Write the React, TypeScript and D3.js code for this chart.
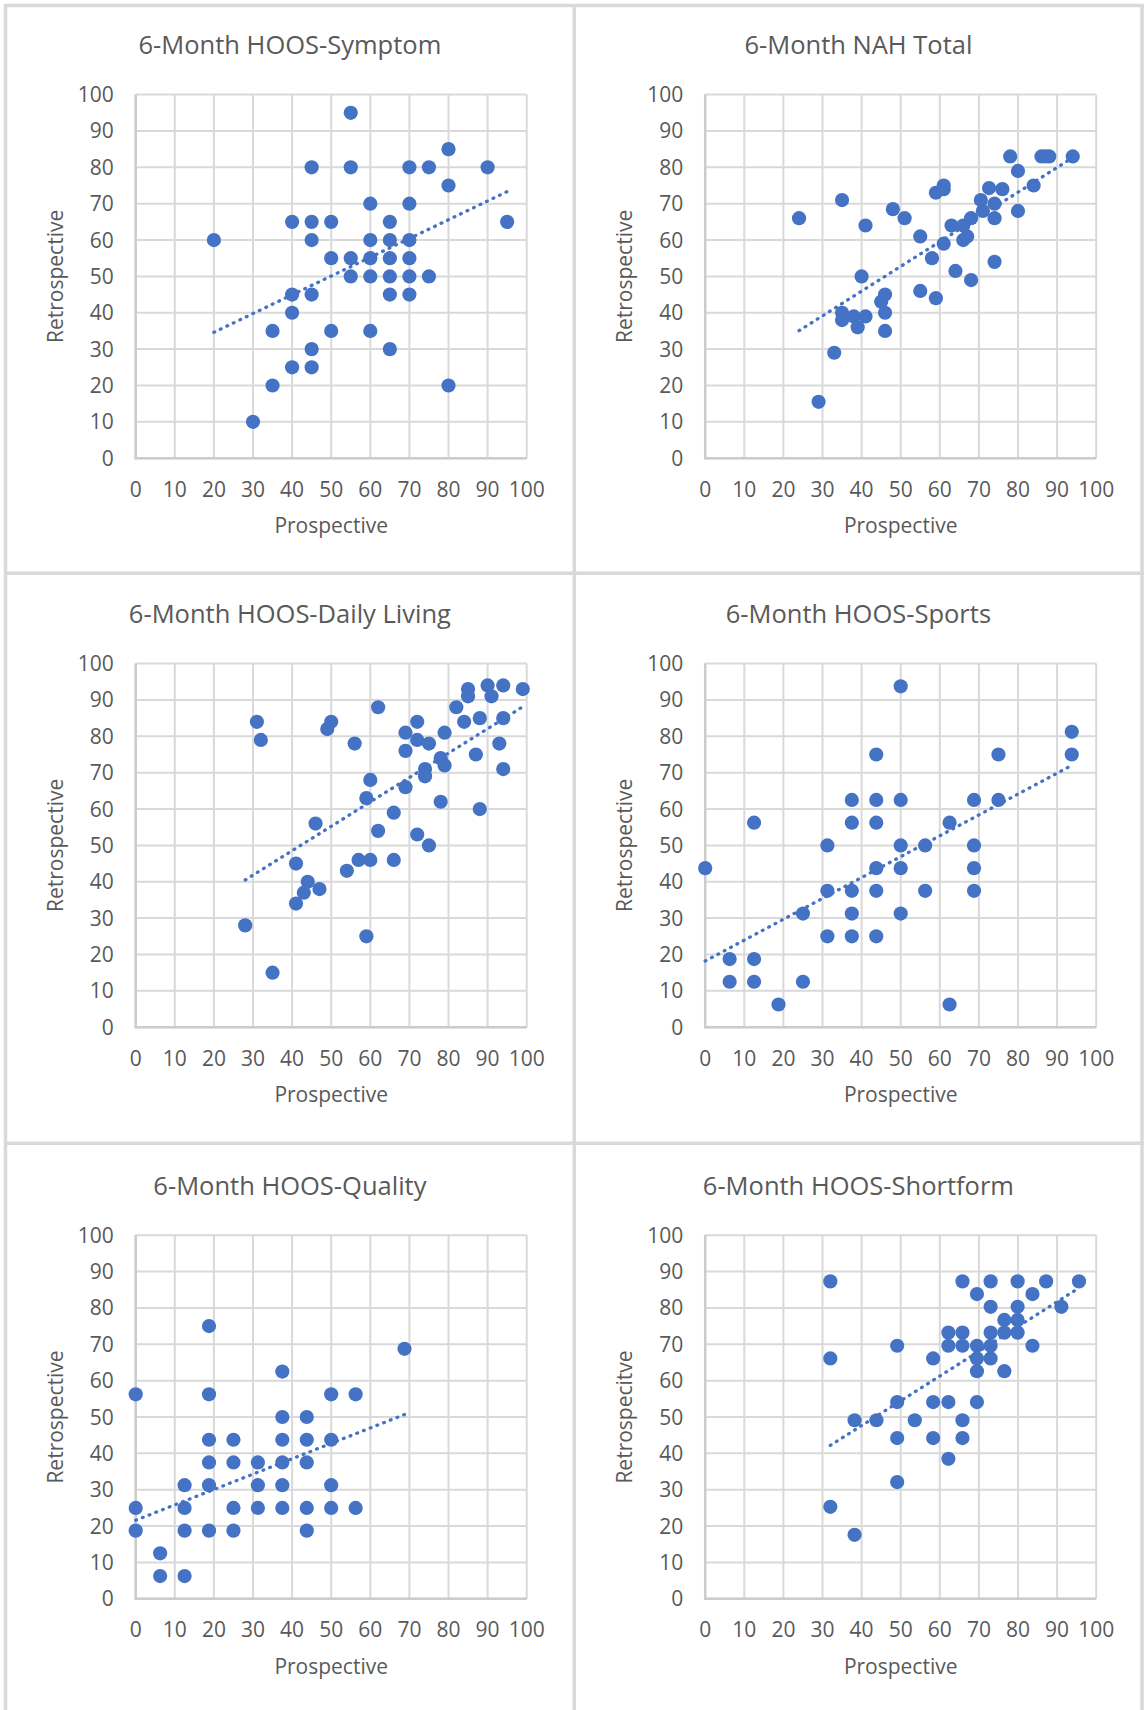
import React from "react";
import * as d3 from "d3";

type Pt = [number, number];

// Axis ticks shared by every panel (both axes run 0–100)
const TICKS: number[] = [0, 10, 20, 30, 40, 50, 60, 70, 80, 90, 100];

// [prospective, retrospective] score pairs per outcome measure
const symptomPoints: Pt[] = [
  [55, 95], [80, 85], [45, 80], [55, 80], [70, 80], [75, 80], [90, 80], [80, 75],
  [60, 70], [70, 70], [40, 65], [45, 65], [50, 65], [65, 65], [95, 65],
  [20, 60], [45, 60], [60, 60], [65, 60], [70, 60],
  [50, 55], [55, 55], [60, 55], [65, 55], [70, 55],
  [55, 50], [60, 50], [65, 50], [70, 50], [75, 50],
  [40, 45], [45, 45], [65, 45], [70, 45], [40, 40],
  [35, 35], [50, 35], [60, 35], [45, 30], [65, 30],
  [40, 25], [45, 25], [35, 20], [80, 20], [30, 10],
];

const nahPoints: Pt[] = [
  [24, 66], [35, 71], [29, 15.5], [33, 29], [35, 40], [35, 38], [38, 39], [39, 36],
  [41, 39], [40, 50], [41, 64], [48, 68.5], [51, 66], [45, 43], [46, 45], [46, 40],
  [46, 35], [55, 61], [55, 46], [58, 55], [59, 44], [59, 73], [61, 75], [61, 74],
  [61, 59], [63, 64], [64, 51.5], [66, 64], [66, 60], [67, 61], [68, 66], [68, 49],
  [70.5, 71], [71, 68], [72.6, 74.3], [74, 70], [74, 66], [74, 54], [76, 74],
  [78, 83], [80, 79], [80, 68], [84, 75], [86, 83], [87, 83], [88, 83], [94, 83],
];

const dailyLivingPoints: Pt[] = [
  [31, 84], [32, 79], [28, 28], [35, 15], [41, 45], [41, 34], [44, 40], [43, 37],
  [47, 38], [46, 56], [49, 82], [50, 84], [54, 43], [56, 78], [57, 46], [60, 46],
  [59, 63], [60, 68], [59, 25], [62, 88], [62, 54], [66, 59], [66, 46], [69, 81],
  [69, 76], [69, 66], [72, 84], [72, 79], [72, 53], [74, 71], [74, 69], [75, 78],
  [75, 50], [78, 74], [79, 72], [79, 81], [78, 62], [82, 88], [84, 84], [85, 93],
  [85, 91], [87, 75], [88, 85], [88, 60], [90, 94], [91, 91], [93, 78], [94, 94],
  [94, 85], [94, 71], [99, 93],
];

const sportsPoints: Pt[] = [
  [0, 43.75], [6.25, 18.75], [6.25, 12.5], [12.5, 56.25], [12.5, 18.75], [12.5, 12.5],
  [18.75, 6.25], [25, 31.25], [25, 12.5], [31.25, 50], [31.25, 37.5], [31.25, 25],
  [37.5, 62.5], [37.5, 56.25], [37.5, 37.5], [37.5, 31.25], [37.5, 25],
  [43.75, 75], [43.75, 62.5], [43.75, 56.25], [43.75, 43.75], [43.75, 37.5], [43.75, 25],
  [50, 93.75], [50, 62.5], [50, 50], [50, 43.75], [50, 31.25],
  [56.25, 50], [56.25, 37.5], [62.5, 56.25], [62.5, 6.25],
  [68.75, 62.5], [68.75, 50], [68.75, 43.75], [68.75, 37.5],
  [75, 75], [75, 62.5], [93.75, 81.25], [93.75, 75],
];

const qualityPoints: Pt[] = [
  [0, 56.25], [0, 25], [0, 18.75], [6.25, 12.5], [6.25, 6.25],
  [12.5, 31.25], [12.5, 25], [12.5, 18.75], [12.5, 6.25],
  [18.75, 75], [18.75, 56.25], [18.75, 43.75], [18.75, 37.5], [18.75, 31.25], [18.75, 18.75],
  [25, 43.75], [25, 37.5], [25, 25], [25, 18.75],
  [31.25, 37.5], [31.25, 31.25], [31.25, 25],
  [37.5, 62.5], [37.5, 50], [37.5, 43.75], [37.5, 37.5], [37.5, 31.25], [37.5, 25],
  [43.75, 50], [43.75, 43.75], [43.75, 37.5], [43.75, 25], [43.75, 18.75],
  [50, 56.25], [50, 43.75], [50, 31.25], [50, 25],
  [56.25, 56.25], [56.25, 25], [68.75, 68.75],
];

const shortformPoints: Pt[] = [
  [32, 87.3], [32, 66.1], [32, 25.3], [38.2, 49.1], [38.2, 17.6], [43.8, 49.1],
  [49.1, 69.6], [49.1, 54.1], [49.1, 44.2], [49.1, 32.1], [53.6, 49.1],
  [58.3, 66.1], [58.3, 54.1], [58.3, 44.2],
  [62.2, 73.2], [62.2, 69.6], [62.2, 54.1], [62.2, 38.5],
  [65.8, 87.3], [65.8, 73.2], [65.8, 69.6], [65.8, 49.1], [65.8, 44.2],
  [69.5, 83.8], [69.5, 69.6], [69.5, 66.1], [69.5, 62.6], [69.5, 54.1],
  [73, 87.3], [73, 80.3], [73, 73.2], [73, 69.6], [73, 66.1],
  [76.5, 76.7], [76.5, 73.2], [76.5, 62.6],
  [79.9, 87.3], [79.9, 80.3], [79.9, 76.7], [79.9, 73.2],
  [83.7, 83.8], [83.7, 69.6], [87.2, 87.3], [91.1, 80.3], [95.6, 87.3],
];

// Linear trendlines as [intercept, slope]
const symptomTrend: Pt = [24.3, 0.516];
const nahTrend: Pt = [18.75, 0.68];
const dailyLivingTrend: Pt = [21.7, 0.671];
const sportsTrend: Pt = [18.2, 0.574];
const qualityTrend: Pt = [21.6, 0.423];
const shortformTrend: Pt = [20.4, 0.681];

const titles: string[] = [
  "6-Month HOOS-Symptom",
  "6-Month NAH Total",
  "6-Month HOOS-Daily Living",
  "6-Month HOOS-Sports",
  "6-Month HOOS-Quality",
  "6-Month HOOS-Shortform",
];
const yTitles: string[] = [
  "Retrospective", "Retrospective", "Retrospective",
  "Retrospective", "Retrospective", "Retrospecitve",
];
const xTitle = "Prospective";

const seriesList: Pt[][] = [
  symptomPoints, nahPoints, dailyLivingPoints, sportsPoints, qualityPoints, shortformPoints,
];
const trendList: Pt[] = [
  symptomTrend, nahTrend, dailyLivingTrend, sportsTrend, qualityTrend, shortformTrend,
];

// Layout
const W = 1144;
const H = 1710;
const CELL_X = [5.5, 574.3];
const CELL_Y = [5.5, 573.3, 1143.3];
const PLOT_LEFT = [135.7, 705.2];
const PLOT_TOP = [94.6, 663.6, 1235.2];
const PLOT_W = 391;
const PLOT_H = 363.6;

const BLUE = "#4472C4";
const TEXT = "#595959";
const GRID = "#D9D9D9";
const FONT = "'Open Sans', 'Segoe UI', sans-serif";

function Panel({ idx }: { idx: number }) {
  const col = idx % 2;
  const row = Math.floor(idx / 2);
  const left = PLOT_LEFT[col];
  const top = PLOT_TOP[row];
  const cellCenter = col === 0 ? (CELL_X[0] + CELL_X[1]) / 2 : (CELL_X[1] + 1142.5) / 2;

  const x = d3.scaleLinear().domain([0, 100]).range([left, left + PLOT_W]);
  const y = d3.scaleLinear().domain([0, 100]).range([top + PLOT_H, top]);

  const pts = seriesList[idx];
  const [a, b] = trendList[idx];
  const [x0, x1] = d3.extent(pts, (p) => p[0]) as [number, number];
  const trendPath =
    d3.line<number>()
      .x((v) => x(v))
      .y((v) => y(a + b * v))([x0, x1]) || "";

  return (
    <g>
      {/* gridlines */}
      {TICKS.map((t) => (
        <line key={"v" + t} x1={x(t)} x2={x(t)} y1={y(0)} y2={y(100)} stroke={GRID} strokeWidth={2} />
      ))}
      {TICKS.map((t) => (
        <line key={"h" + t} x1={x(0)} x2={x(100)} y1={y(t)} y2={y(t)} stroke={GRID} strokeWidth={2} />
      ))}
      {/* axis lines */}
      <line x1={x(0)} x2={x(0)} y1={y(0) + 1} y2={y(100)} stroke="#CCCCCC" strokeWidth={2.5} />
      <line x1={x(0) - 1} x2={x(100)} y1={y(0)} y2={y(0)} stroke="#CCCCCC" strokeWidth={2.5} />

      {/* tick labels */}
      {TICKS.map((t) => (
        <text key={"xt" + t} x={x(t)} y={y(0) + 38.5} textAnchor="middle" fontSize={21} fill={TEXT} fontFamily={FONT}>
          {t}
        </text>
      ))}
      {TICKS.map((t) => (
        <text key={"yt" + t} x={x(0) - 22} y={y(t) + 7.5} textAnchor="end" fontSize={21} fill={TEXT} fontFamily={FONT}>
          {t}
        </text>
      ))}

      {/* titles */}
      <text x={cellCenter} y={top - 40.5} textAnchor="middle" fontSize={25.5} fill={TEXT} fontFamily={FONT}>
        {titles[idx]}
      </text>
      <text x={(x(0) + x(100)) / 2} y={y(0) + 75} textAnchor="middle" fontSize={21} fill={TEXT} fontFamily={FONT}>
        {xTitle}
      </text>
      <text
        transform={`translate(${x(0) - 73},${(y(0) + y(100)) / 2}) rotate(-90)`}
        textAnchor="middle"
        fontSize={21}
        fill={TEXT}
        fontFamily={FONT}
      >
        {yTitles[idx]}
      </text>

      {/* markers */}
      {pts.map((p, i) => (
        <circle key={i} cx={x(p[0])} cy={y(p[1])} r={7.1} fill={BLUE} />
      ))}

      {/* dotted linear trendline */}
      <path
        d={trendPath}
        fill="none"
        stroke={BLUE}
        strokeWidth={3.3}
        strokeLinecap="round"
        strokeDasharray="0.8 6.4"
      />
    </g>
  );
}

export default function App() {
  const frame = "#D9D9D9";
  return (
    <svg
      width={W}
      height={H}
      viewBox={`0 0 ${W} ${H}`}
      style={{ position: "absolute", left: 0, top: 0, background: "#fff" }}
    >
      <rect x={0} y={0} width={W} height={H} fill="#fff" />
      {/* chart frames */}
      <line x1={CELL_X[0]} x2={CELL_X[0]} y1={CELL_Y[0] - 1.5} y2={H} stroke={frame} strokeWidth={3.5} />
      <line x1={CELL_X[1]} x2={CELL_X[1]} y1={CELL_Y[0] - 1.5} y2={H} stroke={frame} strokeWidth={3.5} />
      <line x1={1142} x2={1142} y1={CELL_Y[0] - 1.5} y2={H} stroke={frame} strokeWidth={3.5} />
      {CELL_Y.map((cy) => (
        <line key={cy} x1={CELL_X[0] - 1.5} x2={W} y1={cy} y2={cy} stroke={frame} strokeWidth={3.5} />
      ))}
      {titles.map((_, i) => (
        <Panel key={i} idx={i} />
      ))}
    </svg>
  );
}
